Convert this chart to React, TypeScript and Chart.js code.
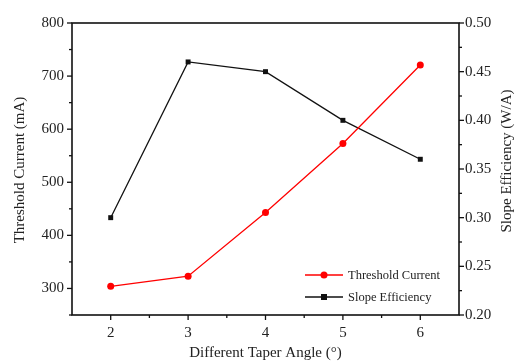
import React, { useEffect, useRef } from "react";
import { Chart, registerables } from "chart.js";

Chart.register(...registerables);

const taperAngles = [2, 3, 4, 5, 6];
const thresholdCurrent = [304, 323, 443, 573, 721];
const slopeEfficiency = [0.3, 0.46, 0.45, 0.4, 0.36];
const seriesLabels = ["Threshold Current", "Slope Efficiency"];
const xTitle = "Different Taper Angle (°)";
const yLeftTitle = "Threshold Current (mA)";
const yRightTitle = "Slope Efficiency (W/A)";
const leftMajor = [300, 400, 500, 600, 700, 800];
const leftMinor = [250, 350, 450, 550, 650, 750];
const rightMajor = [0.2, 0.25, 0.3, 0.35, 0.4, 0.45, 0.5];
const rightMinor = [0.225, 0.275, 0.325, 0.375, 0.425, 0.475];
const xMajor = [2, 3, 4, 5, 6];
const xMinor = [2.5, 3.5, 4.5, 5.5];

const FONT = "'Liberation Serif', 'Times New Roman', serif";
const TEXT = "#222";

const framePlugin = {
  id: "framePlugin",
  afterDraw(chart: any) {
    const { ctx, chartArea } = chart;
    const { left, right, top, bottom } = chartArea;
    const xs = chart.scales.x;
    const yl = chart.scales.y;
    const yr = chart.scales.y1;
    ctx.save();
    ctx.strokeStyle = "#111";
    ctx.lineWidth = 1.6;
    ctx.strokeRect(left, top, right - left, bottom - top);
    ctx.lineWidth = 1.3;
    const tick = (x1: number, y1: number, x2: number, y2: number) => {
      ctx.beginPath();
      ctx.moveTo(x1, y1);
      ctx.lineTo(x2, y2);
      ctx.stroke();
    };
    xMajor.forEach((v) => {
      const p = xs.getPixelForValue(v);
      tick(p, bottom, p, bottom + 5);
    });
    xMinor.forEach((v) => {
      const p = xs.getPixelForValue(v);
      tick(p, bottom, p, bottom + 3);
    });
    leftMajor.forEach((v) => {
      const p = yl.getPixelForValue(v);
      tick(left, p, left - 5, p);
    });
    leftMinor.forEach((v) => {
      const p = yl.getPixelForValue(v);
      tick(left, p, left - 3, p);
    });
    rightMajor.forEach((v) => {
      const p = yr.getPixelForValue(v);
      tick(right, p, right + 5, p);
    });
    rightMinor.forEach((v) => {
      const p = yr.getPixelForValue(v);
      tick(right, p, right + 3, p);
    });

    // axis titles
    ctx.fillStyle = TEXT;
    ctx.textAlign = "center";
    ctx.textBaseline = "middle";
    ctx.font = `15px ${FONT}`;
    ctx.fillText(xTitle, (left + right) / 2, 353);
    ctx.save();
    ctx.translate(20, 170);
    ctx.rotate(-Math.PI / 2);
    ctx.fillText(yLeftTitle, 0, 0);
    ctx.restore();
    ctx.save();
    ctx.translate(507, 161);
    ctx.rotate(-Math.PI / 2);
    ctx.fillText(yRightTitle, 0, 0);
    ctx.restore();

    // legend
    const rows = [275, 297];
    chart.data.datasets.forEach((ds: any, i: number) => {
      const y = rows[i];
      ctx.strokeStyle = ds.borderColor;
      ctx.lineWidth = 1.3;
      tick(305, y, 343, y);
      ctx.fillStyle = ds.borderColor;
      if (ds.pointStyle === "rect") {
        ctx.fillRect(324 - 3, y - 3, 6, 6);
      } else {
        ctx.beginPath();
        ctx.arc(324, y, 3.5, 0, Math.PI * 2);
        ctx.fill();
      }
      ctx.fillStyle = TEXT;
      ctx.textAlign = "left";
      ctx.font = `12.5px ${FONT}`;
      ctx.fillText(ds.label, 348, y + 0.5);
    });
    ctx.restore();
  },
};

export default function App() {
  const ref = useRef<HTMLCanvasElement>(null);
  useEffect(() => {
    if (!ref.current) return;
    const chart = new Chart(ref.current, {
      type: "line",
      data: {
        datasets: [
          {
            label: seriesLabels[0],
            data: taperAngles.map((x, i) => ({ x, y: thresholdCurrent[i] })),
            borderColor: "#ff0000",
            backgroundColor: "#ff0000",
            borderWidth: 1.3,
            pointStyle: "circle",
            pointRadius: 3.5,
            pointBorderWidth: 0,
            yAxisID: "y",
          },
          {
            label: seriesLabels[1],
            data: taperAngles.map((x, i) => ({ x, y: slopeEfficiency[i] })),
            borderColor: "#111111",
            backgroundColor: "#111111",
            borderWidth: 1.3,
            pointStyle: "rect",
            pointRadius: 3.5,
            pointBorderWidth: 0,
            yAxisID: "y1",
          },
        ],
      },
      options: {
        responsive: false,
        animation: false,
        layout: { padding: { top: 23, left: 0, right: 0, bottom: 0 } },
        plugins: { legend: { display: false }, tooltip: { enabled: false } },
        scales: {
          x: {
            type: "linear",
            min: 1.5,
            max: 6.5,
            grid: { display: false, drawTicks: false },
            border: { display: false },
            ticks: {
              stepSize: 0.5,
              autoSkip: false,
              padding: 9,
              color: TEXT,
              font: { family: FONT, size: 15 },
              maxRotation: 0,
              callback: (v: any) =>
                Math.abs(v - Math.round(v)) < 1e-6 ? String(Math.round(v)) : "",
            },
            afterFit: (s: any) => {
              s.height = 46;
            },
          },
          y: {
            position: "left",
            min: 250,
            max: 800,
            grid: { display: false, drawTicks: false },
            border: { display: false },
            ticks: {
              stepSize: 100,
              padding: 8,
              color: TEXT,
              font: { family: FONT, size: 15 },
              callback: (v: any) => (v % 100 === 0 ? String(v) : ""),
            },
            afterFit: (s: any) => {
              s.width = 72;
            },
          },
          y1: {
            position: "right",
            min: 0.2,
            max: 0.5,
            grid: { display: false, drawTicks: false },
            border: { display: false },
            ticks: {
              stepSize: 0.05,
              padding: 6,
              color: TEXT,
              font: { family: FONT, size: 15 },
              callback: (v: any) => Number(v).toFixed(2),
            },
            afterFit: (s: any) => {
              s.width = 60;
            },
          },
        },
      },
      plugins: [framePlugin],
    } as any);
    return () => chart.destroy();
  }, []);
  return (
    <div style={{ position: "absolute", left: 0, top: 0, width: 519, height: 361, background: "#fff" }}>
      <canvas ref={ref} width={519} height={361} />
    </div>
  );
}
